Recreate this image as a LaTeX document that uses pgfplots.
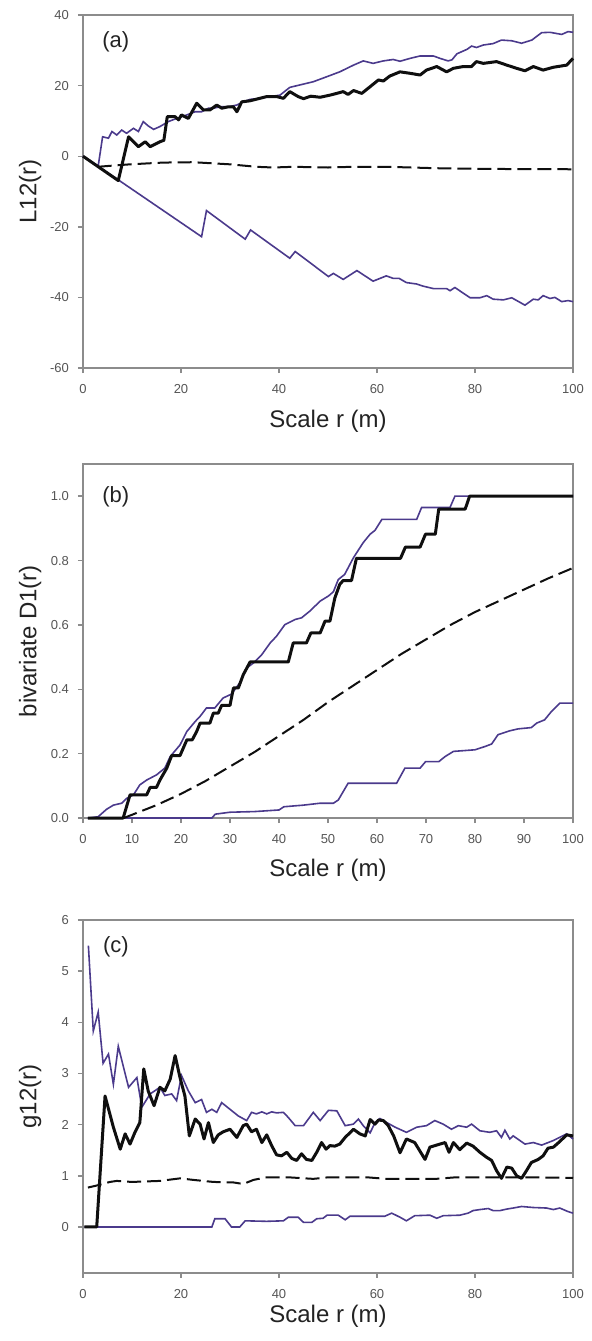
\documentclass[border=0pt]{standalone}
\usepackage{fontspec}
\setmainfont{Liberation Sans}
\usepackage{pgfplots}
\pgfplotsset{compat=1.18}
\definecolor{purp}{RGB}{75,58,140}
\definecolor{framegray}{RGB}{140,140,140}
\definecolor{tickgray}{RGB}{85,85,85}
\definecolor{labcol}{RGB}{35,35,35}
\definecolor{obs}{RGB}{15,15,15}
\pgfplotsset{
  panel/.style={
    scale only axis, width=245pt,
    xmin=0, xmax=100,
    axis line style={draw=framegray, line width=0.7pt},
    tick style={draw=framegray, line width=0.7pt},
    tick align=outside, major tick length=2.5pt,
    xtick pos=bottom, ytick pos=left,
    ticklabel style={font=\fontsize{6.5}{7}\selectfont, text=tickgray},
    xticklabel style={yshift=-2pt},
    yticklabel style={xshift=-1pt},
    /pgf/number format/assume math mode=true,
    label style={font=\fontsize{12}{14}\selectfont, text=labcol},
    xlabel={Scale r (m)},
    ylabel style={at={(axis description cs:-0.108,0.5)}, anchor=center},
    clip=false,
  },
  env/.style={purp, line width=0.8pt},
  sim/.style={obs, line width=1pt, dash pattern=on 7pt off 3pt},
  ob/.style={obs, line width=1.5pt, line join=round},
}
\begin{document}
\begin{tikzpicture}
\path[use as bounding box] (0,0) rectangle (295.5pt,-670.5pt);

% ---------------- (a)
\begin{axis}[panel, at={(41.5pt,-7.5pt)}, anchor=north west, height=176.5pt,
  ymin=-60, ymax=40, ytick={-60,-40,-20,0,20,40}, xtick={0,20,40,60,80,100},
  ylabel={L12(r)},
  xlabel style={at={(axis description cs:0.5,-0.150)}, anchor=center}]
\addplot[env] coordinates {(0,0) (3.1,-2.8) (4.0,5.5) (5.2,5.1) (5.9,7) (6.9,6) (7.9,7.4) (8.9,6.5) (10.3,7.9) (11.3,7) (12.3,9.8) (13.3,8.6) (14.4,7.6) (15.7,8.4) (17.4,9.8) (19.1,10.7) (21.2,11.7) (22.9,12.6) (24.2,12.6) (25.6,13.6) (26.6,13.6) (28,14.0) (29.7,14) (31.4,14.5) (32.7,15.4) (34.1,16.1) (36.1,16.4) (38.2,16.9) (40.2,17.3) (42.2,19.5) (44.3,20.2) (47,21.1) (50.1,22.7) (52.4,23.9) (55.2,25.8) (57.2,27.0) (59.2,26.3) (61.3,27.0) (63.3,27.4) (64.7,26.9) (66.7,27.7) (68.8,28.4) (71.5,28.4) (72.9,27.7) (74.5,27.0) (75.3,27.3) (76.3,29.0) (78.4,30.3) (79.3,31.2) (80.3,30.8) (81.7,31.5) (83.7,31.9) (85.4,32.9) (87.5,32.7) (89.5,32.0) (91.6,32.9) (93.6,35.0) (95.3,35.1) (97.7,34.5) (99.0,35.3) (100,35.1)};
\addplot[env] coordinates {(0,0) (7.2,-6.7) (24.2,-22.8) (25.2,-15.4) (33.1,-23.5) (34.2,-20.9) (42.2,-28.9) (43.3,-27.0) (50.1,-34.1) (51.1,-33.2) (53.1,-34.9) (55.9,-32.4) (59.2,-35.4) (61.9,-33.9) (63.3,-34.6) (64.5,-34.6) (66.0,-35.8) (68.1,-36.2) (69.4,-36.8) (71.5,-37.5) (74.2,-37.5) (74.9,-38.1) (75.9,-37.2) (79.0,-40.1) (81.0,-40.1) (82.4,-39.5) (83.7,-40.5) (85.8,-40.7) (87.5,-40.1) (90.2,-42.2) (91.9,-40.5) (92.9,-40.7) (93.9,-39.5) (95.3,-40.3) (96.3,-40.0) (97.7,-41.2) (99.0,-40.9) (100,-41.2)};
\addplot[sim] coordinates {(3,-3) (4.8,-2.8) (9.6,-2.3) (16.4,-1.8) (22.5,-1.7) (30,-2.3) (35.4,-3.0) (38.8,-3.2) (42.9,-3.0) (50,-3.2) (55,-3.0) (62,-3.0) (72,-3.4) (82,-3.6) (100,-3.7)};
\addplot[ob] coordinates {(0,0) (7.2,-6.9) (9.3,5.5) (11.3,2.7) (12.7,4.1) (13.7,2.7) (15.7,4.1) (16.5,4.5) (17.2,11.2) (18.8,11.2) (19.5,10.3) (20.1,11.7) (21.5,10.7) (23.2,15.0) (24.6,13.1) (25.9,13.1) (27.3,14.5) (28.3,13.6) (29.7,14.0) (30.7,14.0) (31.4,12.6) (32.4,15.4) (34.1,15.7) (36.1,16.4) (37.5,16.9) (39.5,16.9) (40.9,16.4) (42.2,18.3) (43.9,16.9) (45,16.3) (46.5,17) (48.4,16.7) (50.4,17.3) (51.8,17.8) (53.1,18.3) (54.1,17.5) (55.2,18.6) (56.9,17.8) (58.6,19.7) (60.3,21.6) (61.3,21.3) (62.6,22.7) (64.7,23.9) (66.7,23.5) (68.8,23.0) (70.1,24.4) (72.2,25.4) (74.2,23.9) (75.6,24.9) (77.6,25.4) (79.3,25.4) (80.3,26.8) (81.7,26.3) (84.4,26.8) (86.5,25.8) (88.5,24.9) (90.2,24.2) (91.9,25.4) (93.9,24.4) (96,25.2) (98.7,25.8) (100,27.7)};
\node[font=\fontsize{11}{13}\selectfont, text=labcol] at (rel axis cs:0.067,0.924) {(a)};
\end{axis}

% ---------------- (b)
\begin{axis}[panel, at={(41.5pt,-232pt)}, anchor=north west, height=177pt,
  ymin=0, ymax=1.1, ytick={0,0.2,0.4,0.6,0.8,1}, xtick={0,10,...,100},
  yticklabel style={/pgf/number format/.cd, fixed, fixed zerofill, precision=1},
  ylabel={bivariate D1(r)},
  xlabel style={at={(axis description cs:0.5,-0.147)}, anchor=center}]
\addplot[env] coordinates {(1,0) (3.1,0.004) (4.8,0.027) (6.2,0.04) (7.9,0.046) (8.9,0.061) (10.3,0.072) (11.6,0.103) (13,0.118) (15,0.134) (16.7,0.155) (17.8,0.191) (19.8,0.227) (21.2,0.269) (22.9,0.3) (23.9,0.316) (25.2,0.342) (26.9,0.342) (28.6,0.373) (30.3,0.385) (32.0,0.42) (33.4,0.466) (34.8,0.482) (36.5,0.508) (38.2,0.544) (39.5,0.565) (41.2,0.601) (43.3,0.617) (44.6,0.622) (46.3,0.643) (48.4,0.674) (50.1,0.69) (51.1,0.703) (52.1,0.741) (53.4,0.757) (55.2,0.809) (57.2,0.856) (58.6,0.882) (59.6,0.894) (61.0,0.928) (68.1,0.928) (69.1,0.965) (74.9,0.965) (75.9,1.0) (100,1.0)};
\addplot[env] coordinates {(1,0) (26.3,0) (27,0.012) (30,0.018) (35,0.02) (40,0.025) (41,0.035) (45,0.04) (48.4,0.046) (51.1,0.046) (52.1,0.056) (54.1,0.108) (64,0.108) (65.7,0.155) (68.8,0.155) (69.9,0.175) (72.6,0.175) (73.9,0.191) (75.6,0.207) (80.0,0.212) (82.0,0.222) (83.4,0.23) (84.7,0.259) (87.1,0.271) (88.8,0.277) (91.5,0.281) (92.6,0.295) (94.2,0.305) (95.6,0.331) (97.3,0.357) (100,0.357)};
\addplot[sim] coordinates {(8.3,0) (10,0.01) (15,0.04) (20,0.075) (25,0.115) (30,0.16) (35,0.205) (40,0.255) (45,0.305) (50,0.36) (55,0.41) (60,0.46) (65,0.51) (70,0.555) (75,0.6) (80,0.64) (85,0.675) (90,0.71) (95,0.745) (100,0.777)};
\addplot[ob] coordinates {(1,0) (8.2,0) (9.6,0.072) (13,0.072) (13.7,0.095) (15,0.095) (15.7,0.118) (17.1,0.155) (18.1,0.194) (19.8,0.194) (21.2,0.243) (22.3,0.243) (23.2,0.269) (23.9,0.295) (25.9,0.295) (26.6,0.326) (27.6,0.326) (28.3,0.35) (30,0.35) (30.7,0.404) (31.7,0.404) (32.7,0.445) (34.1,0.485) (41.9,0.485) (42.9,0.544) (45.6,0.544) (46.5,0.575) (48.4,0.575) (49.4,0.612) (50.4,0.612) (51.4,0.684) (52.4,0.726) (53.1,0.738) (54.8,0.738) (55.8,0.807) (64.8,0.807) (65.8,0.842) (68.8,0.842) (69.9,0.882) (71.9,0.882) (72.6,0.96) (78,0.96) (78.9,1.0) (100,1.0)};
\node[font=\fontsize{11}{13}\selectfont, text=labcol] at (rel axis cs:0.067,0.908) {(b)};
\end{axis}

% ---------------- (c)
\begin{axis}[panel, at={(41.5pt,-460pt)}, anchor=north west, height=176.5pt,
  ymin=-0.9, ymax=6, ytick={0,1,2,3,4,5,6}, xtick={0,20,40,60,80,100},
  ylabel={g12(r)},
  xlabel style={at={(axis description cs:0.5,-0.122)}, anchor=center}]
\addplot[env] coordinates {(1.1,5.5) (2.1,3.83) (3.1,4.2) (4.1,3.2) (5.2,3.38) (6.2,2.79) (7.2,3.53) (9.3,2.73) (11,2.92) (12,2.34) (13.7,2.6) (15.7,2.73) (16.7,2.57) (18.1,2.6) (19.1,2.47) (20.1,2.96) (21.5,2.66) (22.9,2.43) (24.2,2.49) (25.2,2.24) (26.3,2.3) (27.3,2.24) (28.3,2.43) (30,2.3) (31.7,2.17) (33.4,2.08) (34.4,2.24) (35.4,2.21) (36.5,2.25) (37.5,2.21) (38.5,2.25) (39.5,2.23) (40.9,2.24) (41.9,2.14) (43.3,1.98) (45,1.98) (47,2.24) (48.4,2.08) (50.1,2.28) (51.8,2.27) (53.5,1.98) (55.2,2.01) (56.2,2.11) (57.2,1.98) (58.6,1.84) (59.6,2.04) (60.6,2.12) (62,2.04) (63.7,1.95) (66,1.85) (68.1,1.95) (70.1,1.98) (71.8,2.08) (73.5,2.01) (75.2,1.91) (76.6,1.98) (78.3,1.95) (79.3,2.01) (81,1.88) (83,1.85) (84.4,1.88) (85.4,1.75) (86.1,1.89) (87.1,1.72) (87.8,1.78) (90.2,1.62) (91.9,1.65) (93.6,1.6) (96,1.69) (98.7,1.82) (100,1.72)};
\addplot[env] coordinates {(0.3,0) (26.3,0) (26.9,0.16) (29,0.16) (30.3,0) (32,0) (33.1,0.12) (37.5,0.11) (40.9,0.12) (41.9,0.19) (43.9,0.19) (45,0.09) (46.7,0.09) (47.7,0.16) (49,0.17) (49.8,0.23) (52.1,0.23) (53.5,0.14) (54.5,0.21) (61.6,0.21) (63,0.27) (64.7,0.19) (66,0.12) (67.7,0.22) (70.8,0.23) (72.2,0.17) (73.5,0.22) (76.9,0.23) (78.6,0.27) (79.6,0.32) (81,0.34) (82.7,0.36) (83.7,0.32) (85.1,0.32) (86.5,0.35) (87.8,0.37) (89.5,0.4) (91.9,0.38) (94.6,0.37) (96,0.34) (97.3,0.37) (99,0.3) (100,0.27)};
\addplot[sim] coordinates {(1,0.77) (2.8,0.81) (5.5,0.88) (6.9,0.9) (10,0.88) (15.7,0.9) (19.8,0.95) (22.5,0.92) (26.6,0.88) (30.7,0.87) (32.7,0.84) (34.8,0.92) (37.5,0.97) (42,0.97) (47,0.94) (50,0.97) (58,0.97) (62,0.94) (72,0.94) (76,0.97) (90,0.97) (100,0.96)};
\addplot[ob] coordinates {(0.3,0) (2.8,0) (4.5,2.56) (6.2,1.95) (7.6,1.52) (8.6,1.82) (9.6,1.62) (10.6,1.85) (11.6,2.04) (12.4,3.09) (13.3,2.66) (14.5,2.37) (15.7,2.73) (16.7,2.66) (17.8,2.89) (18.8,3.35) (19.8,2.92) (20.8,2.56) (21.7,1.78) (22.9,2.11) (23.9,2.01) (24.7,1.72) (25.6,2.04) (26.6,1.65) (27.6,1.8) (28.6,1.86) (30,1.91) (31.4,1.75) (32.7,1.98) (33.4,2.01) (34.4,1.86) (35.4,1.91) (36.5,1.65) (37.5,1.8) (38.5,1.59) (39.5,1.41) (40.5,1.39) (41.6,1.46) (42.6,1.34) (43.6,1.3) (44.6,1.43) (45.6,1.32) (46.7,1.3) (47.7,1.46) (48.7,1.65) (49.6,1.52) (50.4,1.59) (51.4,1.58) (52.4,1.62) (53.5,1.75) (55.2,1.91) (56.5,1.82) (57.6,1.78) (58.6,2.1) (59.6,2.01) (60.3,2.09) (61.3,2.08) (62.3,1.98) (63.4,1.78) (64.7,1.45) (66,1.72) (67.7,1.65) (69.8,1.32) (70.8,1.56) (72.5,1.61) (73.9,1.65) (74.7,1.46) (75.6,1.65) (76.9,1.51) (78.3,1.64) (79.6,1.58) (81,1.46) (82.4,1.36) (83.4,1.3) (84.4,1.1) (85.4,0.95) (86.5,1.17) (87.5,1.15) (88.5,1.0) (89.5,0.95) (90.5,1.1) (91.5,1.26) (92.9,1.32) (93.9,1.39) (94.9,1.54) (96,1.56) (97.3,1.67) (98.7,1.8) (100,1.78)};
\node[font=\fontsize{11}{13}\selectfont, text=labcol] at (rel axis cs:0.067,0.923) {(c)};
\end{axis}
\end{tikzpicture}
\end{document}
